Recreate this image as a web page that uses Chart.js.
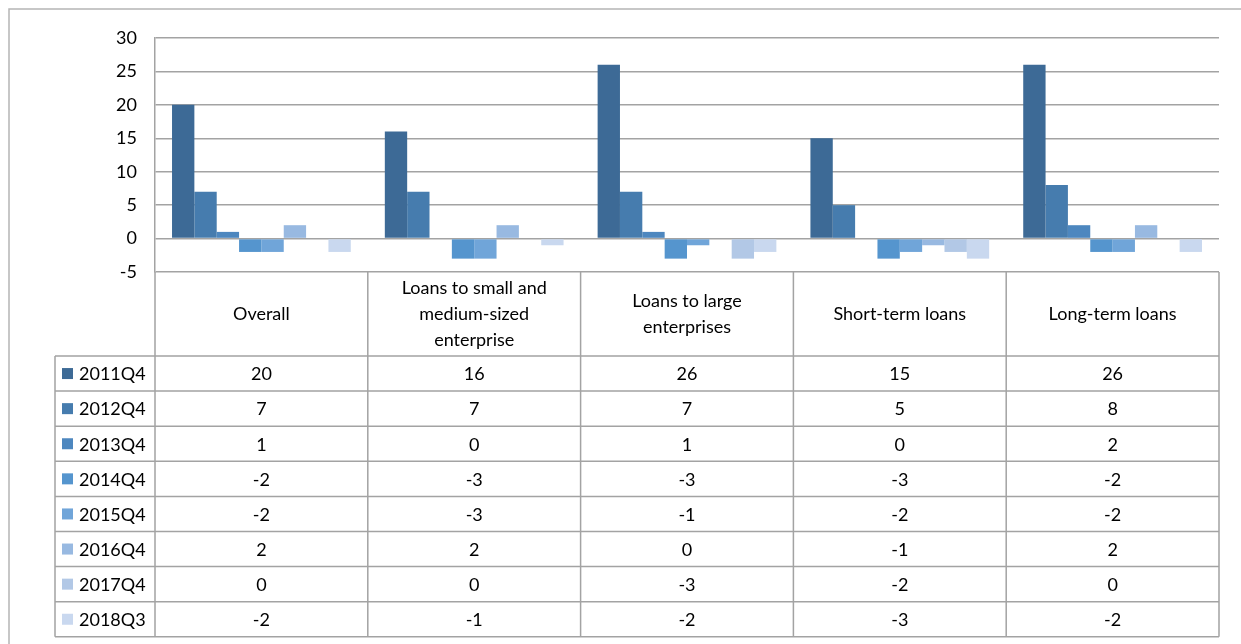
<!DOCTYPE html>
<html>
<head>
<meta charset="utf-8">
<script src="https://cdn.jsdelivr.net/npm/chart.js@4"></script>
<style>
  body { margin: 0; background: #fff; }
</style>
</head>
<body>
<canvas id="loanchart" width="1241" height="644"></canvas>
<script>
// categories (header cells, already split into lines)
const categories = [
  ['Overall'],
  ['Loans to small and', 'medium-sized', 'enterprise'],
  ['Loans to large', 'enterprises'],
  ['Short-term loans'],
  ['Long-term loans']
];
const periods = ['2011Q4', '2012Q4', '2013Q4', '2014Q4', '2015Q4', '2016Q4', '2017Q4', '2018Q3'];

const s2011Q4 = [20, 16, 26, 15, 26];
const s2012Q4 = [7, 7, 7, 5, 8];
const s2013Q4 = [1, 0, 1, 0, 2];
const s2014Q4 = [-2, -3, -3, -3, -2];
const s2015Q4 = [-2, -3, -1, -2, -2];
const s2016Q4 = [2, 2, 0, -1, 2];
const s2017Q4 = [0, 0, -3, -2, 0];
const s2018Q3 = [-2, -1, -2, -3, -2];

const yTicks = [-5, 0, 5, 10, 15, 20, 25, 30];

const seriesValues = [s2011Q4, s2012Q4, s2013Q4, s2014Q4, s2015Q4, s2016Q4, s2017Q4, s2018Q3];
const colors = ['#3d6a96', '#467cae', '#4d87bf', '#5595ce', '#70a5d9', '#98b9e1', '#b2c8e6', '#c9d8ef'];

const FONT = 'Lato, "Open Sans", sans-serif';
const LINE = '#a3a3a3';

// draws the outer frame and the data table under the plot
const dataTable = {
  id: 'dataTable',
  beforeDraw(chart) {
    const ctx = chart.ctx;
    ctx.save();
    ctx.strokeStyle = '#b5b5b5';
    ctx.lineWidth = 1.5;
    ctx.beginPath();
    ctx.moveTo(9, 644);
    ctx.lineTo(9, 9);
    ctx.lineTo(1241, 9);
    ctx.stroke();
    ctx.restore();
  },
  afterDraw(chart) {
    const ctx = chart.ctx;
    const x = chart.scales.x;
    const area = chart.chartArea;
    const n = categories.length;
    const colW = (area.right - area.left) / n;
    const top = area.bottom;
    const headH = 84;
    const rowH = 35.1;
    const legLeft = 55;
    const rowsTop = top + headH;
    const bottom = rowsTop + rowH * periods.length;

    ctx.save();
    ctx.strokeStyle = LINE;
    ctx.lineWidth = 1.5;
    ctx.beginPath();
    // column lines
    for (let i = 0; i <= n; i++) {
      const px = area.left + colW * i;
      ctx.moveTo(px, top);
      ctx.lineTo(px, bottom);
    }
    ctx.moveTo(legLeft, rowsTop);
    ctx.lineTo(legLeft, bottom);
    // row lines
    for (let r = 0; r <= periods.length; r++) {
      const py = rowsTop + rowH * r;
      ctx.moveTo(legLeft, py);
      ctx.lineTo(area.right, py);
    }
    ctx.stroke();

    ctx.fillStyle = '#000';
    ctx.font = '18px ' + FONT;
    ctx.textAlign = 'center';
    ctx.textBaseline = 'middle';
    // header
    categories.forEach((lines, i) => {
      const cx = x.getPixelForValue(i);
      const lh = 26;
      const y0 = top + headH / 2 - (lines.length - 1) * lh / 2;
      lines.forEach((t, k) => ctx.fillText(t, cx, y0 + k * lh));
    });
    // rows
    periods.forEach((p, r) => {
      const cy = rowsTop + rowH * r + rowH / 2;
      ctx.fillStyle = colors[r];
      ctx.fillRect(62, cy - 5.5, 11, 11);
      ctx.fillStyle = '#000';
      ctx.textAlign = 'left';
      ctx.fillText(p, 79, cy + 1);
      ctx.textAlign = 'center';
      seriesValues[r].forEach((v, i) => {
        ctx.fillText(String(v), x.getPixelForValue(i), cy + 1);
      });
    });
    ctx.restore();
  }
};

new Chart(document.getElementById('loanchart'), {
  type: 'bar',
  data: {
    labels: categories,
    datasets: periods.map((p, i) => ({
      label: p,
      data: seriesValues[i],
      backgroundColor: colors[i],
      borderWidth: 0,
      categoryPercentage: 0.84,
      barPercentage: 1
    }))
  },
  options: {
    responsive: false,
    animation: false,
    layout: { padding: { top: 38, right: 22, bottom: 372, left: 0 } },
    plugins: {
      legend: { display: false },
      tooltip: { enabled: false }
    },
    scales: {
      x: { display: false },
      y: {
        min: -5,
        max: 30,
        afterFit(scale) { scale.width = 155; },
        afterBuildTicks(scale) { scale.ticks = yTicks.map(v => ({ value: v })); },
        ticks: { color: '#000', font: { family: FONT, size: 18 }, padding: 18 },
        grid: { color: LINE, lineWidth: 1.5, drawTicks: false },
        border: { display: true, color: LINE, width: 1.5 }
      }
    }
  },
  plugins: [dataTable]
});
</script>
</body>
</html>
